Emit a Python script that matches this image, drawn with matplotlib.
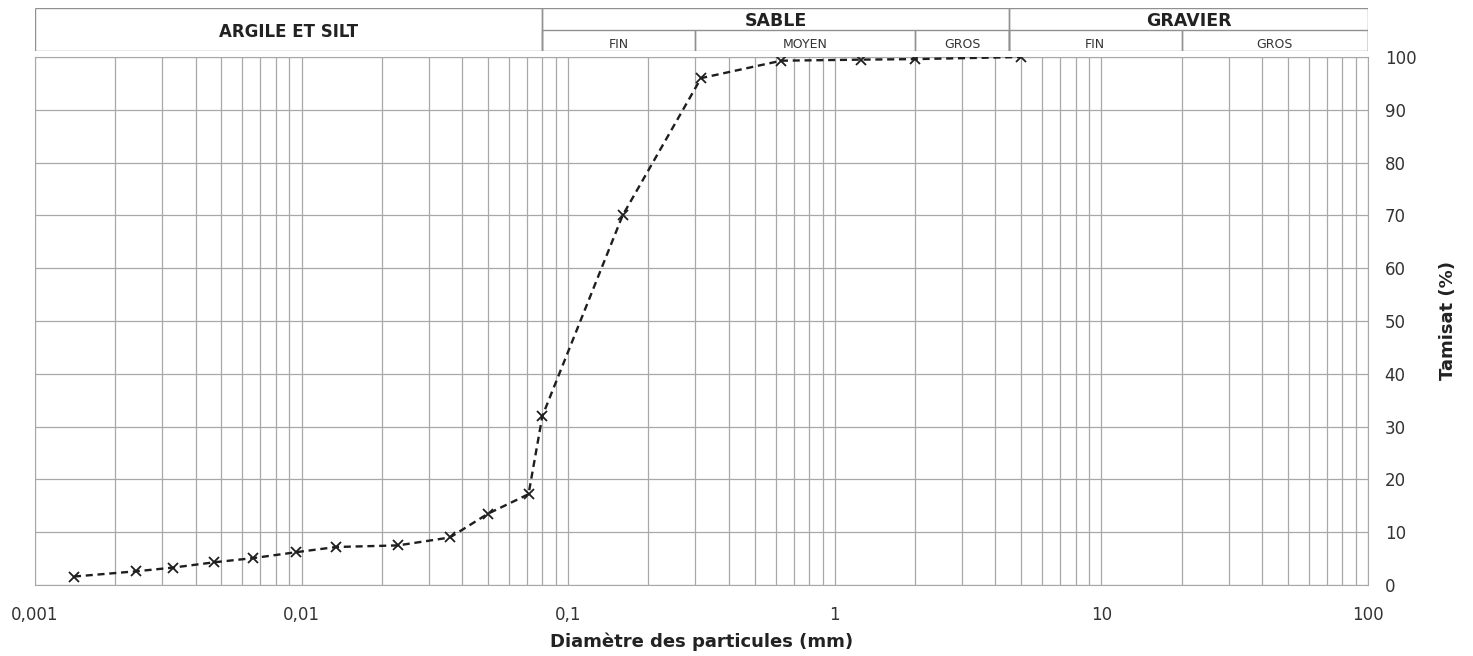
import matplotlib
matplotlib.use('Agg')
import matplotlib.pyplot as plt
from matplotlib.ticker import FixedLocator, FixedFormatter, LogLocator, NullFormatter

# Particle size curve (diameter mm, passing %)
diametre = [0.0014, 0.0024, 0.0033, 0.0047, 0.0066, 0.0095, 0.0135, 0.023, 0.036,
            0.05, 0.071, 0.08, 0.16, 0.315, 0.63, 1.25, 2.0, 5.0]
tamisat = [1.6, 2.6, 3.3, 4.3, 5.1, 6.2, 7.2, 7.5, 9.0,
           13.5, 17.2, 32.0, 70.0, 96.0, 99.3, 99.5, 99.6, 100.0]

x_ticks = [0.001, 0.01, 0.1, 1, 10, 100]
x_labels = ['0,001', '0,01', '0,1', '1', '10', '100']
y_ticks = list(range(0, 101, 10))

# Classification header: (label, start, end)
classes = [('ARGILE ET SILT', 0.001, 0.08), ('SABLE', 0.08, 4.5), ('GRAVIER', 4.5, 100)]
sub_classes = [('FIN', 0.08, 0.3), ('MOYEN', 0.3, 2.0), ('GROS', 2.0, 4.5),
               ('FIN', 4.5, 20), ('GROS', 20, 100)]

W, H = 1473, 656
fig = plt.figure(figsize=(W / 100, H / 100), dpi=100)
left, right = 35 / W, 1368 / W
ax = fig.add_axes([left, 71 / H, right - left, (599 - 71) / H])
hax = fig.add_axes([left, 605 / H, right - left, (648 - 605) / H], sharex=ax)

grid_col = '#a8a8a8'
ax.plot(diametre, tamisat, color='#1e1e1e', linestyle=(0, (3, 2)), linewidth=1.7,
        marker='x', markersize=7, markeredgewidth=1.3, zorder=3)

ax.set_xscale('log')
ax.set_xlim(0.001, 100)
ax.set_ylim(0, 100)
ax.xaxis.set_major_locator(FixedLocator(x_ticks))
ax.xaxis.set_major_formatter(FixedFormatter(x_labels))
ax.xaxis.set_minor_locator(LogLocator(base=10, subs=range(2, 10), numticks=20))
ax.xaxis.set_minor_formatter(NullFormatter())
ax.set_yticks(y_ticks)
ax.yaxis.tick_right()
ax.yaxis.set_label_position('right')
ax.tick_params(axis='both', which='both', length=0, labelsize=12, colors='#333333')
ax.tick_params(axis='x', pad=15)
ax.tick_params(axis='y', pad=12)
ax.grid(True, which='both', axis='x', color=grid_col, linewidth=0.9)
ax.grid(True, which='major', axis='y', color=grid_col, linewidth=0.9)
for s in ax.spines.values():
    s.set_color(grid_col)

ax.set_xlabel('Diamètre des particules (mm)', fontsize=13, fontweight='bold', color='#222222', labelpad=6)
ax.set_ylabel('Tamisat (%)', fontsize=13, fontweight='bold', color='#222222', labelpad=16)

# Header table
hax.set_ylim(0, 2)
hax.axis('off')
hcol = '#909090'
hax.hlines([2, 0], 0.001, 100, color=hcol, linewidth=1)
hax.hlines(1, 0.08, 100, color=hcol, linewidth=1)
for name, a, b in classes:
    hax.vlines([a, b], 0, 2, color=hcol, linewidth=1)
    xm = (a * b) ** 0.5
    if a == 0.001:
        hax.text(xm, 0.9, name, ha='center', va='center', fontsize=12, fontweight='bold', color='#222222')
    else:
        hax.text(xm, 0.98, name, ha='center', va='bottom', fontsize=12.5, fontweight='bold', color='#222222')
for name, a, b in sub_classes:
    hax.vlines([a, b], 0, 1, color=hcol, linewidth=1)
    hax.text((a * b) ** 0.5, 0.0, name, ha='center', va='bottom', fontsize=9, color='#333333')

fig.savefig('out.png', dpi=100)
